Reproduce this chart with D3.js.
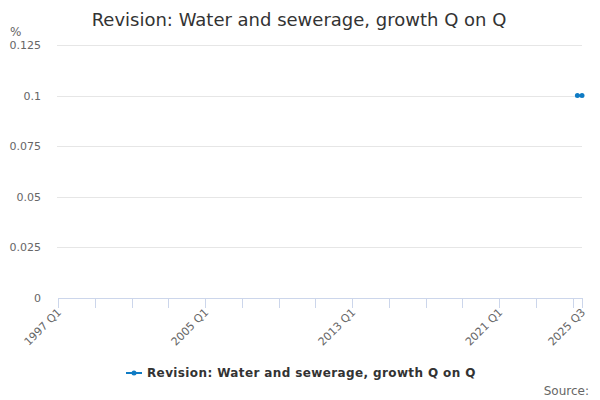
<!DOCTYPE html>
<html><head><meta charset="utf-8">
<script src="https://cdn.jsdelivr.net/npm/d3@7"></script>
<style>body{margin:0;background:#fff;}svg{font-family:"DejaVu Sans",sans-serif;}</style>
</head><body><svg id="c" width="600" height="400"></svg>
<script>
// Data
const years = d3.range(1997, 2026);
const categories = [];
years.forEach(y => ["Q1","Q2","Q3","Q4"].forEach(q => { if (!(y === 2025 && q === "Q4")) categories.push(y + " " + q); }));
const seriesName = "Revision: Water and sewerage, growth Q on Q";
// only the last two quarters have values; earlier quarters are empty
const values = categories.map(() => null);
values[categories.indexOf("2025 Q2")] = 0.1;
values[categories.indexOf("2025 Q3")] = 0.1;
const yTicks = [0, 0.025, 0.05, 0.075, 0.1, 0.125];
const xLabelCats = ["1997 Q1", "2005 Q1", "2013 Q1", "2021 Q1", "2025 Q3"];

(function () {
const svg = d3.select("#c");
const pl = 58, pr = 582, pt = 45, pb = 298;
const x = d3.scaleLinear().domain([0, categories.length - 1]).range([pl, pr]);
const y = d3.scaleLinear().domain([0, 0.125]).range([pb, pt]);

svg.append("text").attr("x", 299).attr("y", 26).attr("text-anchor", "middle")
  .attr("font-size", 18).attr("fill", "#333").text("Revision: Water and sewerage, growth Q on Q");

// grid
svg.append("g").selectAll("line").data(yTicks.slice(1)).join("line")
  .attr("x1", pl - 1).attr("x2", pr).attr("y1", d => Math.round(y(d)) + 0.5).attr("y2", d => Math.round(y(d)) + 0.5)
  .attr("stroke", "#e6e6e6");

// y labels
const yAxis = d3.axisLeft(y).tickValues(yTicks).tickSize(0).tickPadding(0).tickFormat(d => String(d));
const gy = svg.append("g").attr("transform", `translate(${pl - 17},0)`).call(yAxis);
gy.select(".domain").remove();
gy.selectAll("text").attr("font-size", 11).attr("fill", "#666").attr("font-family", "DejaVu Sans, sans-serif");
svg.append("text").attr("x", 10).attr("y", 36).attr("font-size", 12).attr("fill", "#666").text("%");

// x axis
const tickIdx = d3.range(0, categories.length, 8).concat([categories.length - 1]);
svg.append("line").attr("x1", pl).attr("x2", pr).attr("y1", pb + 0.5).attr("y2", pb + 0.5).attr("stroke", "#ccd6eb");
svg.append("g").selectAll("line").data(tickIdx).join("line")
  .attr("x1", d => Math.round(x(d)) + 0.5).attr("x2", d => Math.round(x(d)) + 0.5)
  .attr("y1", pb).attr("y2", pb + 10).attr("stroke", "#ccd6eb");
svg.append("g").selectAll("text").data(xLabelCats).join("text")
  .attr("transform", d => `translate(${x(categories.indexOf(d)) + 4},${pb + 15}) rotate(-45)`)
  .attr("text-anchor", "end").attr("font-size", 11).attr("fill", "#666").text(d => d);

// series
const color = "#0f7bc4";
const line = d3.line().defined(d => d != null).x((d, i) => x(i)).y(d => y(d));
svg.append("path").datum(values).attr("d", line).attr("fill", "none").attr("stroke", color).attr("stroke-width", 2);
svg.append("g").selectAll("circle").data(values.map((v, i) => ({v, i})).filter(d => d.v != null)).join("circle")
  .attr("cx", d => x(d.i)).attr("cy", d => y(d.v)).attr("r", 2.5).attr("fill", color);

// legend
const lg = svg.append("g");
lg.append("line").attr("x1", 126).attr("x2", 142).attr("y1", 373).attr("y2", 373).attr("stroke", color).attr("stroke-width", 2);
lg.append("circle").attr("cx", 134).attr("cy", 373).attr("r", 2.5).attr("fill", color);
lg.append("text").attr("x", 147).attr("y", 377).attr("font-size", 12).attr("letter-spacing", 0.38).attr("font-weight", "bold").attr("fill", "#333").text(seriesName);

svg.append("text").attr("x", 589).attr("y", 395).attr("text-anchor", "end").attr("font-size", 12).attr("fill", "#666").text("Source:");
})();
</script></body></html>
